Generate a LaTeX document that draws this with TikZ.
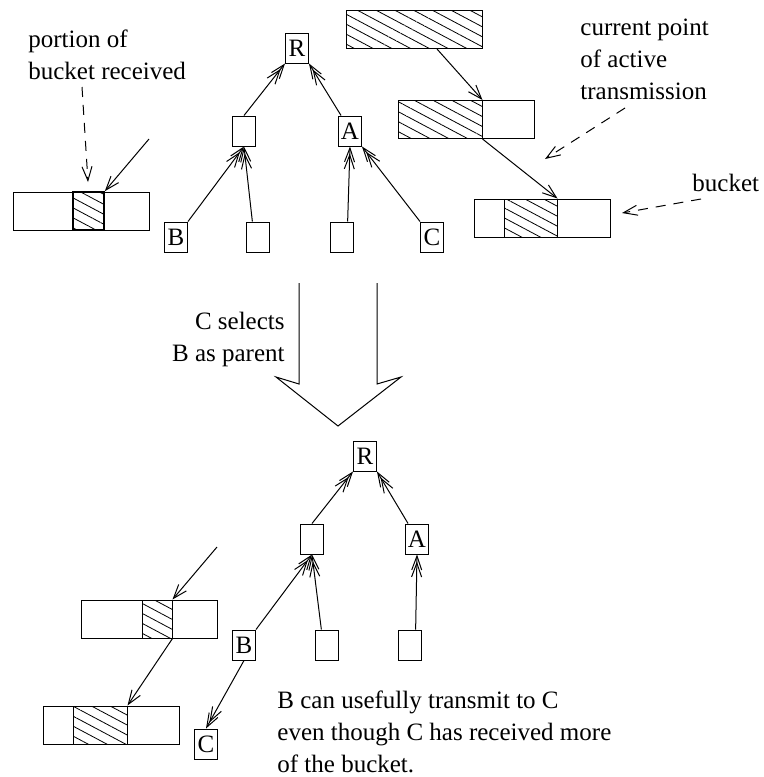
\documentclass[tikz,border=0pt]{standalone}
\usepackage{fontspec}
\setmainfont{Liberation Serif}
\usetikzlibrary{arrows.meta,calc,patterns.meta}
\tikzset{
  every node/.style={font=\fontsize{12.5}{16}\selectfont},
  treebox/.style={draw, line width=0.5pt, minimum width=11.5pt, minimum height=15pt, inner sep=0pt},
  strip/.style={draw, line width=0.5pt, minimum width=68pt, minimum height=19pt, inner sep=0pt},
  hatched/.style={draw, line width=0.5pt, minimum height=19pt, inner sep=0pt, pattern={Lines[angle=-28,distance=4.4pt,line width=0.4pt]}},
  link/.style={line width=0.5pt, -{Straight Barb[length=7pt,width=5pt,sep=-4.5pt] Straight Barb[length=7pt,width=5pt]}},
  flow/.style={line width=0.5pt, -{Straight Barb[length=7pt,width=5pt]}},
  note/.style={line width=0.5pt, dash pattern=on 5pt off 4pt, -{Straight Barb[length=7pt,width=5pt]}},
  txt/.style={align=left, inner sep=0pt},
}
\begin{document}
\begin{tikzpicture}[x=0.5pt,y=-0.5pt]
  \useasboundingbox (0,0) rectangle (764,777);

  % upper tree
  \node[treebox] (r1) at (297,48) {R};
  \node[treebox] (m1) at (244,131) {};
  \node[treebox] (a1) at (350,131) {A};
  \node[treebox] (b1) at (176,237) {B};
  \node[treebox] (l1) at (258,237) {};
  \node[treebox] (l2) at (342,237) {};
  \node[treebox] (c1) at (432,237) {C};

  \draw[link] (m1.north) -- (r1.south west);
  \draw[link] (a1.120) -- (r1.south east);
  \draw[link] (b1.north east) -- (m1.south);
  \draw[link] (l1.110) -- (m1.south);
  \draw[link] (l2.70) -- (a1.south);
  \draw[link] (c1.north west) -- (a1.south east);

  % buckets, upper part
  \node[strip] (s1) at (81,211) {};
  \node[hatched, minimum width=15.5pt, line width=0.8pt] (h1) at (88.5,211) {};
  \node[hatched, minimum width=68pt] (s2) at (414,29.5) {};
  \node[strip] (s3) at (466.5,119.5) {};
  \node[hatched, minimum width=42pt] (h3) at (440,119.5) {};
  \node[strip] (s4) at (542,218) {};
  \node[hatched, minimum width=26.5pt] (h4) at (530.5,218) {};

  \coordinate (in1) at (149,139);
  \draw[flow] (in1) -- (h1.north east);
  \draw[flow] ($(s2.south)+(23,0)$) -- (h3.north east);
  \draw[flow] (h3.south east) -- (h4.north east);

  \node[txt, anchor=base west] (portion) at (28,79) {portion of\\bucket received};
  \node[txt, anchor=base west] (current) at (580,99) {current point\\of active\\transmission};
  \node[txt, anchor=base west] (bucket) at (692,191) {bucket};
  \coordinate (n1) at (82,87);
  \coordinate (n2) at (88,182);
  \coordinate (n3) at (625,108);
  \coordinate (n4) at (545,159);
  \coordinate (n5) at (701,199);
  \coordinate (n6) at (622,213);
  \draw[note] (n1) -- (n2);
  \draw[note] (n3) -- (n4);
  \draw[note] (n5) -- (n6);

  % change of parent
  \draw[line width=0.5pt] (299,283) -- (299,384) -- (276,377) -- (338,426)
    -- (401,377) -- (377,384) -- (377,283);
  \node[txt, anchor=base east, align=right] (selects) at (285,361) {C selects\\B as parent};

  % lower tree
  \node[treebox] (r2) at (365,456) {R};
  \node[treebox] (m2) at (312,539) {};
  \node[treebox] (a2) at (417,539) {A};
  \node[treebox] (b2) at (244,645) {B};
  \node[treebox] (l3) at (327,645) {};
  \node[treebox] (l4) at (410,645) {};
  \node[treebox] (c2) at (206,744) {C};

  \draw[link] (m2.north) -- (r2.south west);
  \draw[link] (a2.120) -- (r2.south east);
  \draw[link] (b2.north east) -- (m2.south);
  \draw[link] (l3.110) -- (m2.south);
  \draw[link] (l4.70) -- (a2.south);
  \draw[link] (b2.south) -- (c2.north);

  % buckets, lower part
  \node[strip] (s5) at (149.5,619) {};
  \node[hatched, minimum width=15pt] (h5) at (157,619) {};
  \node[strip] (s6) at (111.5,725) {};
  \node[hatched, minimum width=27pt] (h6) at (100,725) {};

  \coordinate (in2) at (217,547);
  \draw[flow] (in2) -- (h5.north east);
  \draw[flow] (h5.south east) -- (h6.north east);

  \node[txt, anchor=base west] (usefully) at (277,772) {B can usefully transmit to C\\even though C has received more\\of the bucket.};
\end{tikzpicture}
\end{document}
